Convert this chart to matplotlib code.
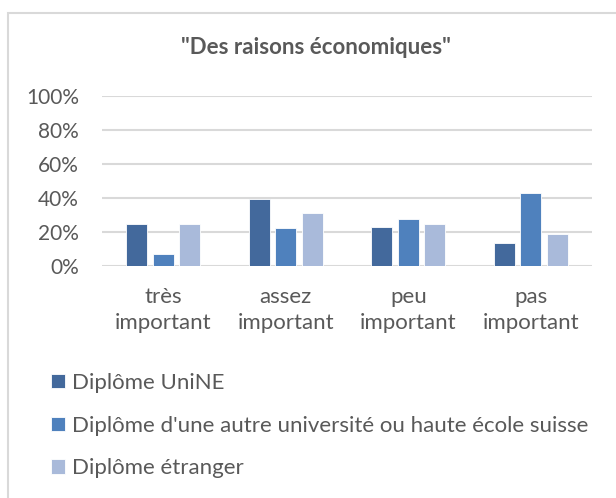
import matplotlib.pyplot as plt
from matplotlib.patches import Rectangle
import numpy as np

categories = ["très\nimportant", "assez\nimportant", "peu\nimportant", "pas\nimportant"]
series_names = [
    "Diplôme UniNE",
    "Diplôme d'une autre université ou haute école suisse",
    "Diplôme étranger",
]
unine = [0.247, 0.393, 0.227, 0.133]
autre_suisse = [0.069, 0.223, 0.275, 0.432]
etranger = [0.249, 0.311, 0.248, 0.186]
colors = ["#43699C", "#4F81BD", "#A9BADA"]

plt.rcParams["font.family"] = ["Lato", "DejaVu Sans"]
text_color = "#595959"
grid_color = "#D9D9D9"

fig = plt.figure(figsize=(6.16, 4.98), dpi=100)
ax = fig.add_axes([102 / 616, 1 - 266 / 498, 490 / 616, 170 / 498])

# outer chart frame (top and left edges visible, rest cut off)
fig.patches.append(Rectangle((8 / 616, -0.1), 1.2, 1 - 13 / 498 + 0.1,
                             transform=fig.transFigure, fill=False,
                             edgecolor=grid_color, linewidth=1.5))

x = np.arange(len(categories))
width = 0.172
offsets = [-0.218, 0.0, 0.218]
handles = []
for vals, off, col, name in zip([unine, autre_suisse, etranger], offsets, colors, series_names):
    h = ax.bar(x + off, vals, width, color=col, edgecolor="white", linewidth=0.6,
               label=name, zorder=3)
    handles.append(h)

ax.set_xlim(-0.5, 3.5)
ax.set_ylim(0, 1)
ax.set_yticks(np.arange(0, 1.01, 0.2))
ax.set_yticklabels([f"{int(round(v * 100))}%" for v in np.arange(0, 1.01, 0.2)])
ax.set_xticks(x)
ax.set_xticklabels(categories, linespacing=1.4)
ax.tick_params(axis="both", length=0, colors=text_color)
ax.tick_params(axis="y", pad=16.5, labelsize=15)
ax.tick_params(axis="x", pad=15, labelsize=16)
ax.yaxis.grid(True, color=grid_color, linewidth=1.5, zorder=0)
for s in ["top", "right", "left", "bottom"]:
    ax.spines[s].set_visible(False)

fig.text(316 / 616, 1 - 48 / 498, "\"Des raisons économiques\"", ha="center", va="center",
         fontsize=16, fontweight="bold", color=text_color)

leg = fig.legend(handles=handles, loc="upper left", bbox_to_anchor=(51 / 616, 1 - 373 / 498),
                 frameon=False, fontsize=16, labelcolor=text_color, borderpad=0,
                 borderaxespad=0, handlelength=0.63, handleheight=0.63, handletextpad=0.3,
                 labelspacing=1.02)

fig.savefig("out.png", dpi=100)
